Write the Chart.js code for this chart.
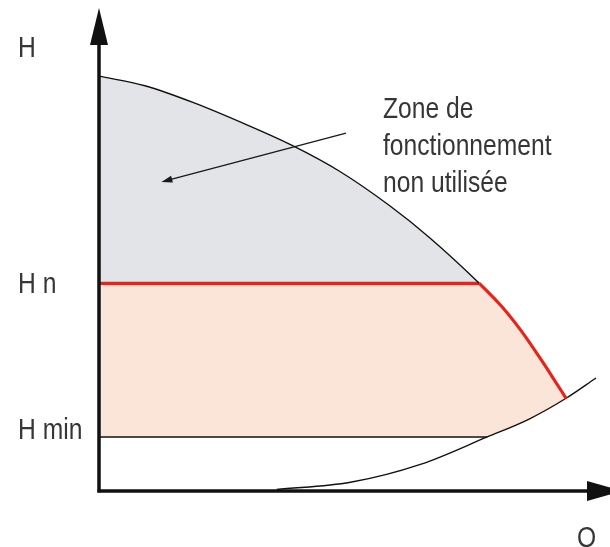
<!DOCTYPE html>
<html><head><meta charset="utf-8">
<script src="https://cdn.jsdelivr.net/npm/chart.js@4/dist/chart.umd.min.js"></script>
<style>html,body{margin:0;padding:0;background:#fff}#wrap{width:610px;height:547px}</style>
</head><body><div id="wrap"><canvas id="c" width="610" height="547"></canvas></div>
<script>
// ---- data (Q, H in arbitrary chart units) ----
const hnLevel = 43.0;      // H n
const hminLevel = 11.2;    // H min
const hnEndQ = 76.2;       // where H n meets the pump curve
const hminEndQ = 77.8;     // where H min meets the system curve
const pumpQ = [0, 9.2, 19.2, 29.2, 38.6, 48.2, 58.2, 66.2, 76.2, 80.8, 84.8, 88.2, 90.8, 93.6];
const pumpH = [85.9, 83.9, 80.3, 76.0, 71.6, 66.2, 59.1, 52.5, 43.0, 38.1, 32.9, 27.8, 23.7, 19.2];
const systemQ = [35.6, 50.4, 64.4, 77.8, 86.2, 93.6, 99.6];
const systemH = [0.3, 1.8, 5.5, 11.2, 14.9, 19.2, 23.4];
const axisLabels = { h: 'H', hn: 'H n', hmin: 'H min', q: 'Q' };
const noteLines = ['Zone de', 'fonctionnement', 'non utilisée'];
const noteArrowFrom = { x: 49.5, y: 74.1 };
const noteArrowTo = { x: 12.5, y: 64.0 };

const pts = (xs, ys) => xs.map((x, i) => ({ x, y: ys[i] }));
const RED = '#e3261b', GRAY = '#e3e4e8', PEACH = '#fbe4d8', TXT = '#363636';
const FONT = "29px 'Liberation Sans', Arial, sans-serif";
const SQUEEZE = 0.85;

const decor = {
  id: 'decor',
  afterDatasetsDraw(chart) {
    const { ctx, scales: { x, y } } = chart;
    const X = v => x.getPixelForValue(v), Y = v => y.getPixelForValue(v);
    const x0 = X(0), y0 = Y(0);
    ctx.save();
    ctx.strokeStyle = '#111'; ctx.fillStyle = '#111'; ctx.lineWidth = 3.5;
    // y axis
    const yTip = Y(y.max);
    ctx.beginPath(); ctx.moveTo(x0, y0 + 1.5); ctx.lineTo(x0, yTip + 30); ctx.stroke();
    ctx.beginPath(); ctx.moveTo(x0, yTip); ctx.lineTo(x0 - 9, yTip + 37); ctx.lineTo(x0 + 9, yTip + 37); ctx.closePath(); ctx.fill();
    // x axis
    const xBase = X(x.max) - 21;
    ctx.beginPath(); ctx.moveTo(x0 - 1.5, y0); ctx.lineTo(xBase + 5, y0); ctx.stroke();
    ctx.beginPath(); ctx.moveTo(xBase + 35, y0); ctx.lineTo(xBase, y0 - 10); ctx.lineTo(xBase, y0 + 10); ctx.closePath(); ctx.fill();
    // annotation arrow
    const ax1 = X(noteArrowFrom.x), ay1 = Y(noteArrowFrom.y), ax2 = X(noteArrowTo.x), ay2 = Y(noteArrowTo.y);
    const ang = Math.atan2(ay2 - ay1, ax2 - ax1);
    ctx.lineWidth = 1.4; ctx.strokeStyle = '#1a1a1a'; ctx.fillStyle = '#1a1a1a';
    ctx.beginPath(); ctx.moveTo(ax1, ay1); ctx.lineTo(ax2 - 6 * Math.cos(ang), ay2 - 6 * Math.sin(ang)); ctx.stroke();
    ctx.save(); ctx.translate(ax2, ay2); ctx.rotate(ang);
    ctx.beginPath(); ctx.moveTo(0, 0); ctx.lineTo(-11, -3.5); ctx.lineTo(-11, 3.5); ctx.closePath(); ctx.fill();
    ctx.restore();
    // texts (condensed like the original narrow face)
    ctx.fillStyle = TXT; ctx.font = FONT; ctx.textBaseline = 'alphabetic'; ctx.textAlign = 'left';
    const txt = (t, tx, ty) => { ctx.save(); ctx.translate(tx, ty); ctx.scale(SQUEEZE, 1); ctx.fillText(t, 0, 0); ctx.restore(); };
    txt(axisLabels.h, 18, 57);
    txt(axisLabels.hn, 18, Y(hnLevel) + 10);
    txt(axisLabels.hmin, 18, Y(hminLevel) + 2);
    txt(axisLabels.q, 577, y0 + 56);
    noteLines.forEach((t, i) => txt(t, 383, 118 + i * 37));
    ctx.restore();
  }
};

new Chart(document.getElementById('c'), {
  type: 'line',
  data: {
    datasets: [
      { // 0: pump curve (grey zone down to H n line, red part below H n)
        data: pts(pumpQ, pumpH), borderColor: '#111', borderWidth: 1.4,
        cubicInterpolationMode: 'monotone', pointRadius: 0,
        fill: 3, backgroundColor: GRAY,
        segment: {
          borderColor: c => c.p0.parsed.x >= hnEndQ - 1e-6 ? RED : undefined,
          borderWidth: c => c.p0.parsed.x >= hnEndQ - 1e-6 ? 3.2 : undefined
        }
      },
      { // 1: system curve
        data: pts(systemQ, systemH), borderColor: '#111', borderWidth: 1.4,
        cubicInterpolationMode: 'monotone', pointRadius: 0,
        fill: { value: hminLevel, above: '#ffffff', below: 'rgba(0,0,0,0)' }
      },
      { // 2: operating zone (peach)
        data: pts(pumpQ, pumpH), borderWidth: 0, borderColor: 'rgba(0,0,0,0)',
        cubicInterpolationMode: 'monotone', pointRadius: 0,
        fill: { value: hminLevel }, backgroundColor: PEACH
      },
      { // 3: H n line
        data: [{ x: 0, y: hnLevel }, { x: hnEndQ, y: hnLevel }], borderColor: RED, borderWidth: 3.2,
        pointRadius: 0, fill: false
      },
      { // 4: H min line
        data: [{ x: 0, y: hminLevel }, { x: hminEndQ, y: hminLevel }], borderColor: '#4a4a4a', borderWidth: 2,
        pointRadius: 0, fill: false
      }
    ]
  },
  options: {
    responsive: false, animation: false, devicePixelRatio: 1,
    layout: { padding: { left: 99, right: 2, top: 8, bottom: 56 } },
    scales: {
      x: { type: 'linear', min: 0, max: 102, display: false },
      y: { type: 'linear', min: 0, max: 100, display: false }
    },
    plugins: { legend: { display: false }, tooltip: { enabled: false }, filler: { drawTime: 'beforeDatasetsDraw' } },
    events: []
  },
  plugins: [decor]
});
</script></body></html>
